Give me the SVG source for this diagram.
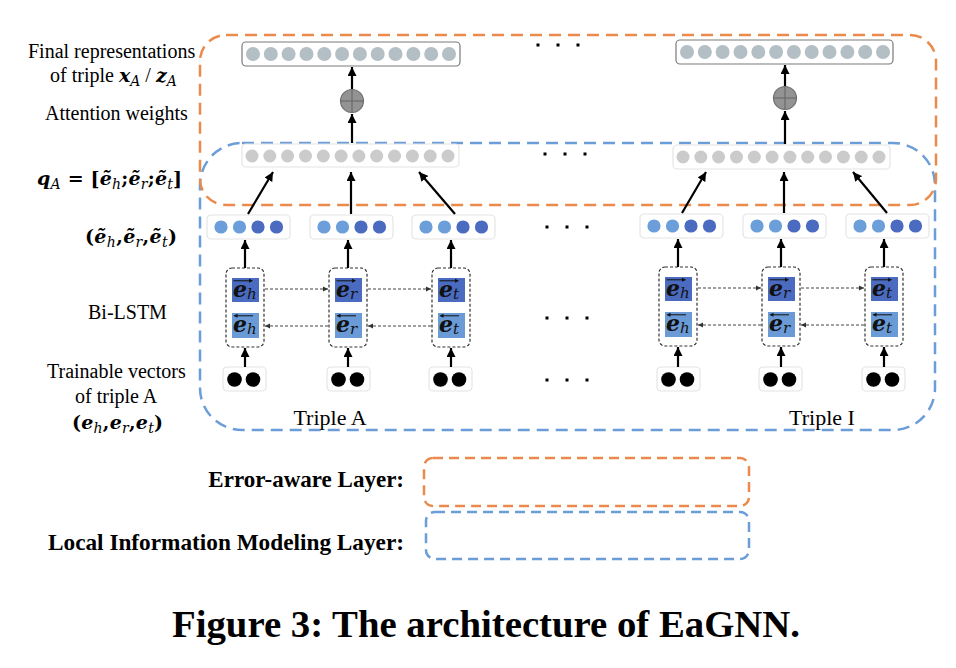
<svg xmlns="http://www.w3.org/2000/svg" xmlns:xlink="http://www.w3.org/1999/xlink" width="956" height="668" viewBox="0 0 956 668">
<style>
.t{font-family:"Liberation Serif","Times New Roman",serif;font-size:20px;fill:#000}
.m{font-family:"DejaVu Serif",serif;font-size:19px;fill:#000}
.b{font-weight:bold}
.bi{font-weight:bold;font-style:italic}
.sub{font-style:italic;font-weight:normal;font-size:14px}
.cm{font-family:"DejaVu Serif",serif;fill:#111}
.ce{font-weight:bold;font-style:italic;font-size:22px}
.cs{font-style:italic;font-size:15px}
.box{fill:#fff;stroke:#e4e4e4;stroke-width:1.2}
.fbox{fill:#fff;stroke:#7a7a7a;stroke-width:1.2}
.lstm{fill:none;stroke:#333;stroke-width:1.2;stroke-dasharray:3 2}
.sqd{fill:#4a6bbf}
.sql{fill:#6a9bd6}
.ov{stroke:#111;stroke-width:1;fill:none}
.arr{stroke:#000;stroke-width:2.2;fill:none;marker-end:url(#ah)}
.darr{stroke:#444;stroke-width:1.2;stroke-dasharray:3 2;fill:none;marker-end:url(#sah)}
.og{fill:none;stroke:#ea8a4c;stroke-width:2.5;stroke-dasharray:12 7}
.bl{fill:none;stroke:#6b9dd9;stroke-width:2.5;stroke-dasharray:12 7}
.ogl{fill:none;stroke:#ea8a4c;stroke-width:2.5;stroke-dasharray:10 6}
.bll{fill:none;stroke:#6b9dd9;stroke-width:2.5;stroke-dasharray:10 6}
.plus{fill:#939393;stroke:#707070;stroke-width:1.2}
.cross{stroke:#6a6a6a;stroke-width:1.2}
</style>
<defs>
<marker id="ah" markerUnits="userSpaceOnUse" markerWidth="10" markerHeight="9" refX="9" refY="4.5" orient="auto"><path d="M0,0 L9,4.5 L0,9 z" fill="#000"/></marker>
<marker id="sah" markerUnits="userSpaceOnUse" markerWidth="6" markerHeight="6" refX="5" refY="3" orient="auto"><path d="M0,0.5 L5,3 L0,5.5 z" fill="#333"/></marker>
<g id="row12f">
<circle cx="0" cy="0" r="7"/><circle cx="17.8" cy="0" r="7"/><circle cx="35.6" cy="0" r="7"/><circle cx="53.5" cy="0" r="7"/><circle cx="71.3" cy="0" r="7"/><circle cx="89.1" cy="0" r="7"/><circle cx="106.9" cy="0" r="7"/><circle cx="124.7" cy="0" r="7"/><circle cx="142.5" cy="0" r="7"/><circle cx="160.4" cy="0" r="7"/><circle cx="178.2" cy="0" r="7"/><circle cx="196" cy="0" r="7"/>
</g>
<g id="row12q">
<circle cx="0" cy="0" r="6.5"/><circle cx="17.8" cy="0" r="6.5"/><circle cx="35.6" cy="0" r="6.5"/><circle cx="53.5" cy="0" r="6.5"/><circle cx="71.3" cy="0" r="6.5"/><circle cx="89.1" cy="0" r="6.5"/><circle cx="106.9" cy="0" r="6.5"/><circle cx="124.7" cy="0" r="6.5"/><circle cx="142.5" cy="0" r="6.5"/><circle cx="160.4" cy="0" r="6.5"/><circle cx="178.2" cy="0" r="6.5"/><circle cx="196" cy="0" r="6.5"/>
</g>
<g id="emb">
<rect class="box" x="0" y="0" width="83" height="24" rx="4"/>
<circle cx="14" cy="12" r="6.6" fill="#6c9fd9"/><circle cx="32.5" cy="12" r="6.6" fill="#6c9fd9"/><circle cx="51" cy="12" r="6.6" fill="#4a6bbf"/><circle cx="69.5" cy="12" r="6.6" fill="#4a6bbf"/>
</g>
<g id="tv">
<rect class="box" x="0" y="0" width="43" height="24" rx="4"/>
<circle cx="11.5" cy="12.5" r="7.3" fill="#000"/><circle cx="30" cy="12.5" r="7.3" fill="#000"/>
</g>
<g id="cellbg">
<rect class="lstm" x="0" y="0" width="38" height="79" rx="6"/>
<rect class="sqd" x="6" y="10" width="27" height="24"/>
<rect class="sql" x="6" y="45" width="27" height="25"/>
<line class="ov" x1="7.5" y1="12.8" x2="26" y2="12.8"/><path d="M27,12.8 l-4,-2 v4 z" fill="#111"/>
<line class="ov" x1="8.5" y1="47.8" x2="27" y2="47.8"/><path d="M7.5,47.8 l4,-2 v4 z" fill="#111"/>
</g>
<g id="plusg">
<circle class="plus" cx="0" cy="0" r="11.5"/>
<line class="cross" x1="-11.5" y1="0" x2="11.5" y2="0"/><line class="cross" x1="0" y1="-11.5" x2="0" y2="11.5"/>
</g>
</defs>

<rect x="0" y="0" width="956" height="668" fill="#fff"/>

<g id="layers">
<rect id="local-layer" class="bl" x="200" y="143" width="735" height="287" rx="42"/>
<rect id="error-layer" class="og" x="200" y="35" width="736" height="170" rx="26"/>
</g>

<g id="labels">
<text class="t" x="28" y="58">Final representations</text>
<text class="t" x="50" y="82">of triple <tspan class="m bi">x</tspan><tspan class="m sub" dy="4">A</tspan><tspan dy="-4"> / </tspan><tspan class="m bi">z</tspan><tspan class="m sub" dy="4">A</tspan></text>
<text class="t" x="45" y="120">Attention weights</text>
<text class="m b" x="37" y="185" textLength="145" lengthAdjust="spacing"><tspan class="bi">q</tspan><tspan class="sub" dy="4">A</tspan><tspan dy="-4"> = [</tspan><tspan class="bi">ẽ</tspan><tspan class="sub" dy="4">h</tspan><tspan dy="-4">;</tspan><tspan class="bi">ẽ</tspan><tspan class="sub" dy="4">r</tspan><tspan dy="-4">;</tspan><tspan class="bi">ẽ</tspan><tspan class="sub" dy="4">t</tspan><tspan dy="-4">]</tspan></text>
<text class="m b" x="85" y="243" textLength="92" lengthAdjust="spacing">(<tspan class="bi">ẽ</tspan><tspan class="sub" dy="4">h</tspan><tspan dy="-4">,</tspan><tspan class="bi">ẽ</tspan><tspan class="sub" dy="4">r</tspan><tspan dy="-4">,</tspan><tspan class="bi">ẽ</tspan><tspan class="sub" dy="4">t</tspan><tspan dy="-4">)</tspan></text>
<text class="t" x="88" y="319">Bi-LSTM</text>
<text class="t" x="47" y="378">Trainable vectors</text>
<text class="t" x="75" y="403">of triple A</text>
<text class="m b" x="72" y="429" textLength="91" lengthAdjust="spacing">(<tspan class="bi">e</tspan><tspan class="sub" dy="4">h</tspan><tspan dy="-4">,</tspan><tspan class="bi">e</tspan><tspan class="sub" dy="4">r</tspan><tspan dy="-4">,</tspan><tspan class="bi">e</tspan><tspan class="sub" dy="4">t</tspan><tspan dy="-4">)</tspan></text>
<text class="t" x="330" y="425" text-anchor="middle" style="font-size:22px">Triple A</text>
<text class="t" x="822" y="425" text-anchor="middle" style="font-size:22px">Triple I</text>
</g>

<g id="ellipses" fill="#000">
<rect x="536.5" y="43.5" width="3" height="3"/><rect x="556.5" y="43.5" width="3" height="3"/><rect x="576.5" y="43.5" width="3" height="3"/>
<rect x="543.5" y="152.5" width="3" height="3"/><rect x="563.5" y="152.5" width="3" height="3"/><rect x="583.5" y="152.5" width="3" height="3"/>
<rect x="545.5" y="225.5" width="3" height="3"/><rect x="565.5" y="225.5" width="3" height="3"/><rect x="585.5" y="225.5" width="3" height="3"/>
<rect x="545.5" y="316.5" width="3" height="3"/><rect x="565.5" y="316.5" width="3" height="3"/><rect x="585.5" y="316.5" width="3" height="3"/>
<rect x="545.5" y="378.5" width="3" height="3"/><rect x="565.5" y="378.5" width="3" height="3"/><rect x="585.5" y="378.5" width="3" height="3"/>
</g>

<g id="final-A"><rect class="fbox" x="242" y="42" width="218" height="24" rx="4"/><use xlink:href="#row12f" x="253" y="54" fill="#b3bec5"/></g>
<g id="final-I"><rect class="fbox" x="676" y="40" width="217" height="24" rx="4"/><use xlink:href="#row12f" x="687" y="52" fill="#b3bec5"/></g>
<g id="attn-A"><use xlink:href="#plusg" x="352" y="101"/></g>
<g id="attn-I"><use xlink:href="#plusg" x="785" y="98"/></g>
<g id="q-A"><rect class="box" x="242" y="144" width="217" height="23" rx="4"/><use xlink:href="#row12q" x="252" y="156" fill="#cbcbcb"/></g>
<g id="q-I"><rect class="box" x="673" y="145" width="217" height="24" rx="4"/><use xlink:href="#row12q" x="683" y="157" fill="#cbcbcb"/></g>

<g id="emb-A-h"><use xlink:href="#emb" x="207" y="215"/></g>
<g id="emb-A-r"><use xlink:href="#emb" x="310" y="215"/></g>
<g id="emb-A-t"><use xlink:href="#emb" x="412" y="215"/></g>
<g id="emb-I-h"><use xlink:href="#emb" x="640" y="214"/></g>
<g id="emb-I-r"><use xlink:href="#emb" x="743" y="214"/></g>
<g id="emb-I-t"><use xlink:href="#emb" x="846" y="214"/></g>

<g id="lstm-A-h" transform="translate(226,268)"><use xlink:href="#cellbg"/>
<text class="cm" x="7" y="29"><tspan class="ce">e</tspan><tspan class="cs" dy="2">h</tspan></text>
<text class="cm" x="7" y="64"><tspan class="ce">e</tspan><tspan class="cs" dy="2">h</tspan></text></g>
<g id="lstm-A-r" transform="translate(329,268)"><use xlink:href="#cellbg"/>
<text class="cm" x="7" y="29"><tspan class="ce">e</tspan><tspan class="cs" dy="2">r</tspan></text>
<text class="cm" x="7" y="64"><tspan class="ce">e</tspan><tspan class="cs" dy="2">r</tspan></text></g>
<g id="lstm-A-t" transform="translate(432,268)"><use xlink:href="#cellbg"/>
<text class="cm" x="7" y="29"><tspan class="ce">e</tspan><tspan class="cs" dy="2">t</tspan></text>
<text class="cm" x="7" y="64"><tspan class="ce">e</tspan><tspan class="cs" dy="2">t</tspan></text></g>
<g id="lstm-I-h" transform="translate(659,267)"><use xlink:href="#cellbg"/>
<text class="cm" x="7" y="29"><tspan class="ce">e</tspan><tspan class="cs" dy="2">h</tspan></text>
<text class="cm" x="7" y="64"><tspan class="ce">e</tspan><tspan class="cs" dy="2">h</tspan></text></g>
<g id="lstm-I-r" transform="translate(762,267)"><use xlink:href="#cellbg"/>
<text class="cm" x="7" y="29"><tspan class="ce">e</tspan><tspan class="cs" dy="2">r</tspan></text>
<text class="cm" x="7" y="64"><tspan class="ce">e</tspan><tspan class="cs" dy="2">r</tspan></text></g>
<g id="lstm-I-t" transform="translate(865,267)"><use xlink:href="#cellbg"/>
<text class="cm" x="7" y="29"><tspan class="ce">e</tspan><tspan class="cs" dy="2">t</tspan></text>
<text class="cm" x="7" y="64"><tspan class="ce">e</tspan><tspan class="cs" dy="2">t</tspan></text></g>

<g id="tv-A-h"><use xlink:href="#tv" x="223" y="367"/></g>
<g id="tv-A-r"><use xlink:href="#tv" x="327" y="367"/></g>
<g id="tv-A-t"><use xlink:href="#tv" x="429" y="367"/></g>
<g id="tv-I-h"><use xlink:href="#tv" x="657" y="367"/></g>
<g id="tv-I-r"><use xlink:href="#tv" x="759" y="367"/></g>
<g id="tv-I-t"><use xlink:href="#tv" x="862" y="367"/></g>

<g id="connectors">
<line class="arr" x1="352" y1="143" x2="352" y2="114"/>
<line class="arr" x1="352" y1="89" x2="352" y2="67"/>
<line class="arr" x1="785" y1="144" x2="785" y2="111"/>
<line class="arr" x1="785" y1="86" x2="785" y2="65"/>
<line class="arr" x1="248" y1="214" x2="273" y2="172"/>
<line class="arr" x1="351" y1="214" x2="351" y2="172"/>
<line class="arr" x1="455" y1="214" x2="419" y2="172"/>
<line class="arr" x1="682" y1="213" x2="706" y2="172"/>
<line class="arr" x1="784" y1="213" x2="784" y2="172"/>
<line class="arr" x1="887" y1="213" x2="853" y2="172"/>
<line class="arr" x1="245" y1="268" x2="245" y2="240"/>
<line class="arr" x1="348" y1="268" x2="348" y2="240"/>
<line class="arr" x1="451" y1="268" x2="451" y2="240"/>
<line class="arr" x1="678" y1="267" x2="678" y2="239"/>
<line class="arr" x1="781" y1="267" x2="781" y2="239"/>
<line class="arr" x1="884" y1="267" x2="884" y2="239"/>
<line class="arr" x1="245" y1="367" x2="245" y2="348"/>
<line class="arr" x1="348" y1="367" x2="348" y2="348"/>
<line class="arr" x1="451" y1="367" x2="451" y2="348"/>
<line class="arr" x1="678" y1="367" x2="678" y2="347"/>
<line class="arr" x1="781" y1="367" x2="781" y2="347"/>
<line class="arr" x1="884" y1="367" x2="884" y2="347"/>
<line class="darr" x1="265" y1="289" x2="328" y2="289"/>
<line class="darr" x1="368" y1="289" x2="431" y2="289"/>
<line class="darr" x1="698" y1="288" x2="761" y2="288"/>
<line class="darr" x1="801" y1="288" x2="864" y2="288"/>
<line class="darr" x1="328" y1="326" x2="265" y2="326"/>
<line class="darr" x1="431" y1="326" x2="368" y2="326"/>
<line class="darr" x1="761" y1="325" x2="698" y2="325"/>
<line class="darr" x1="864" y1="325" x2="801" y2="325"/>
</g>

<g id="legend">
<text class="t b" x="404" y="487" text-anchor="end" style="font-size:23px">Error-aware Layer:</text>
<rect class="ogl" x="424" y="458" width="325" height="48" rx="9"/>
<text class="t b" x="404" y="550" text-anchor="end" style="font-size:23px" textLength="356" lengthAdjust="spacingAndGlyphs">Local Information Modeling Layer:</text>
<rect class="bll" x="426" y="512" width="323" height="47" rx="9"/>
</g>

<g id="caption">
<text class="t b" x="172" y="637" style="font-size:38px" textLength="628" lengthAdjust="spacingAndGlyphs">Figure 3: The architecture of EaGNN.</text>
</g>
</svg>
